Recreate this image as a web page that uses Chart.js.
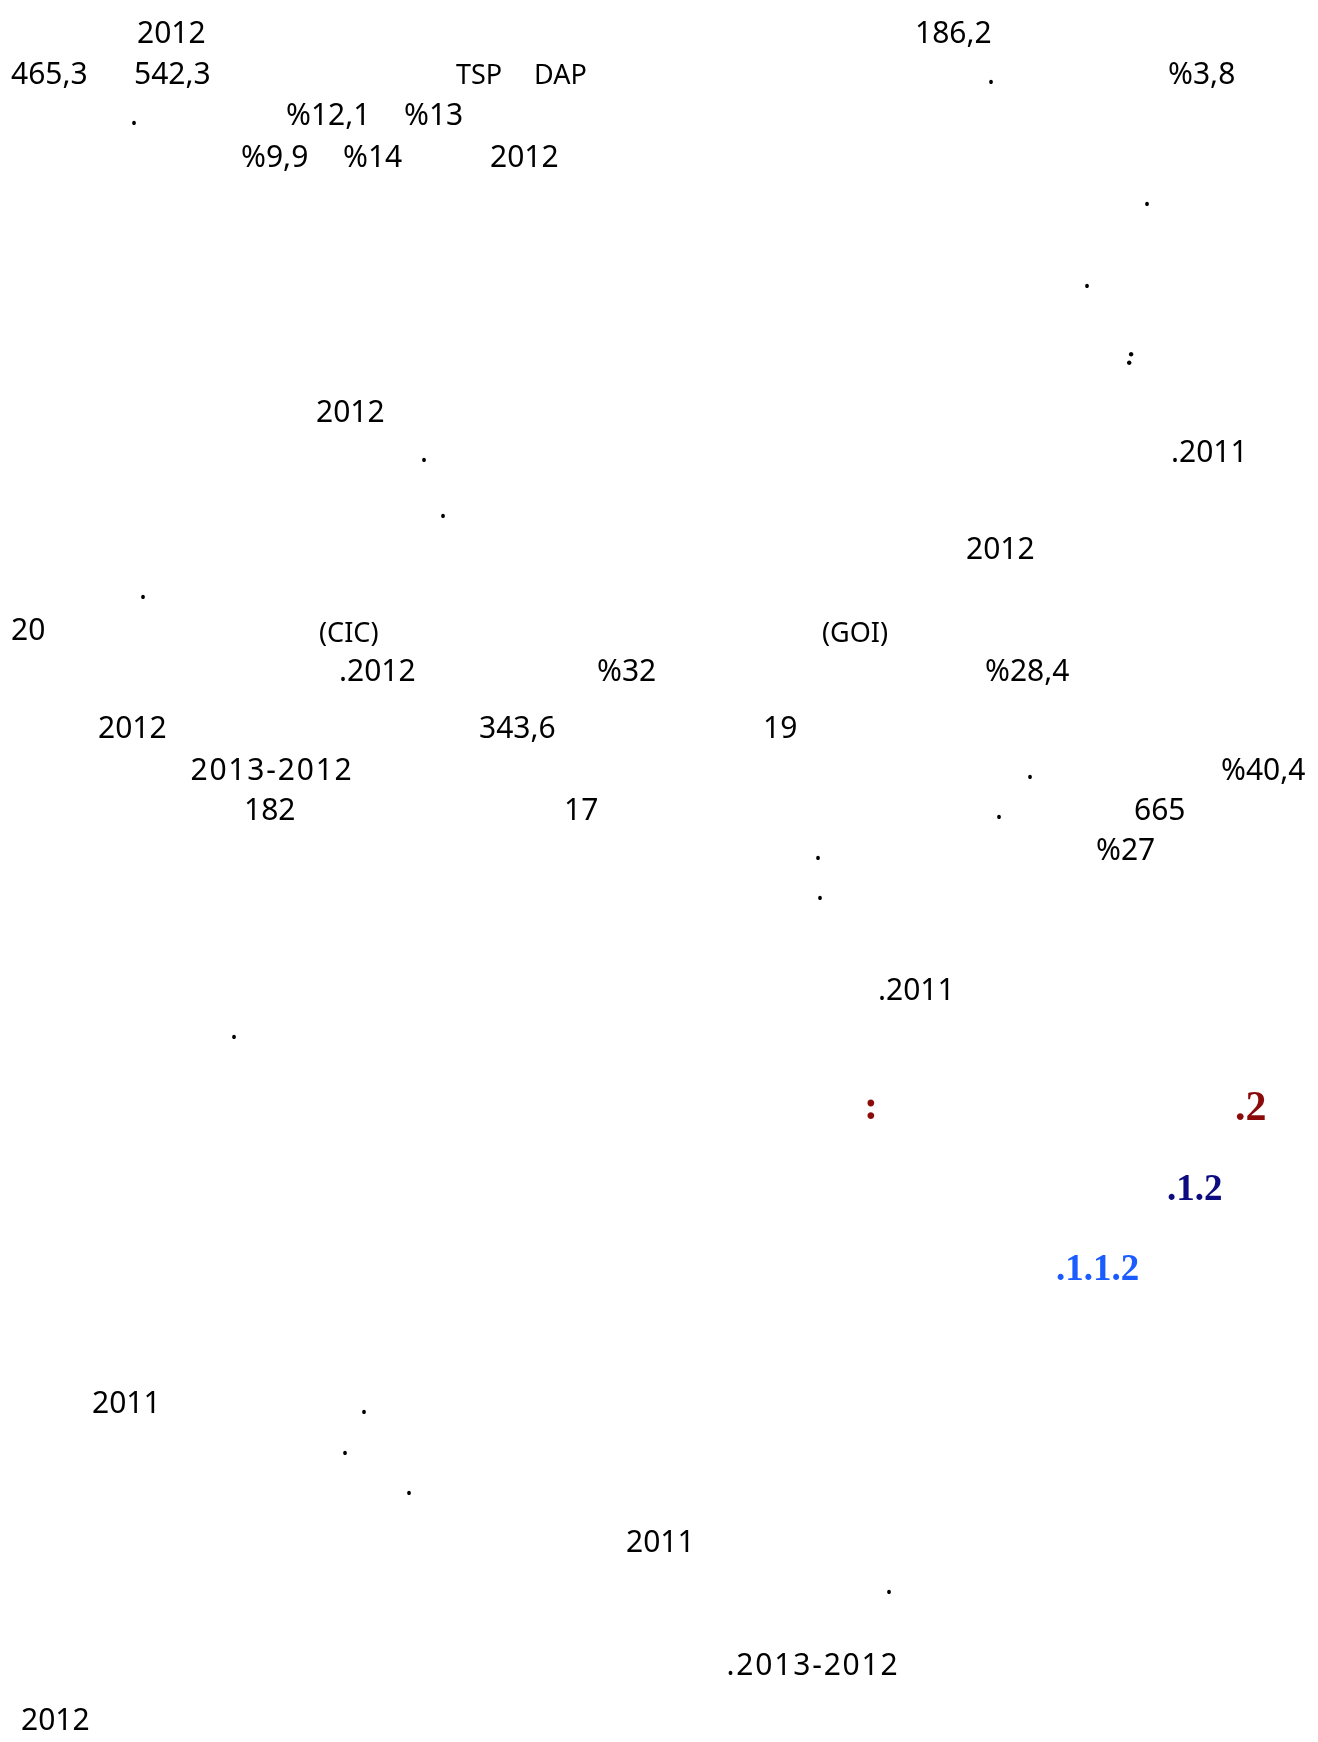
<!DOCTYPE html>
<html>
<head>
<meta charset="utf-8">
<script src="https://cdn.jsdelivr.net/npm/chart.js@4.4.1/dist/chart.umd.min.js"></script>
<style>
  html, body { margin: 0; padding: 0; background: #ffffff; overflow: hidden; }
  #wrap { position: absolute; left: 0; top: 0; width: 1318px; height: 1742px; }
</style>
</head>
<body>
<div id="wrap"><canvas id="page" width="1318" height="1742"></canvas></div>
<script>
// ---- text fragments visible on the page (values) ----
const bodyTexts = [
  "2012", "186,2",
  "465,3", "542,3", ".", "%3,8",
  ".", "%12,1", "%13",
  "%9,9", "%14", "2012",
  ".", ".",
  "2012",
  ".", ".2011",
  ".",
  "2012",
  ".",
  "20",
  ".2012", "%32", "%28,4",
  "2012", "343,6", "19",
  ".", "%40,4",
  "182", "17", ".", "665",
  ".", "%27",
  ".",
  ".2011",
  ".",
  "2011", ".", ".", ".",
  "2011", ".",
  "2012"
];
const dashTexts = ["2013-2012", ".2013-2012"];
const smallTexts = ["TSP", "DAP", "(CIC)", "(GOI)"];
const italicTexts = [":"];
const sectionTexts = [".2", ":"];
const subsectionTexts = [".1.2"];
const subsubsectionTexts = [".1.1.2"];

// ---- layout: left edge / baseline of each fragment on the page ----
const bodyLeft = [
  137, 915,
  11, 134, 987, 1168,
  130, 286, 404,
  241, 343, 490,
  1143, 1083,
  316,
  420, 1171,
  439,
  966,
  139,
  11,
  339, 597, 985,
  98, 479, 763,
  1026, 1221,
  244, 564, 995, 1134,
  814, 1096,
  816,
  878,
  230,
  92, 360, 341, 405,
  626, 885,
  21
];
const bodyBase = [
  43, 43,
  84, 84, 84, 84,
  125, 125, 125,
  167, 167, 167,
  206, 288,
  422,
  462, 462,
  518,
  559,
  599,
  640,
  681, 681, 681,
  738, 738, 738,
  779, 780,
  820, 820, 819, 820,
  860, 860,
  900,
  1000,
  1039,
  1413, 1414, 1455, 1495,
  1552, 1594,
  1730
];
const dashCenter = [272, 813];
const dashBase = [780, 1675];
const smallLeft = [456, 534, 319, 822];
const smallBase = [84, 84, 642, 642];
const italicLeft = [1126];
const italicBase = [365];
const sectionLeft = [1235, 864];
const sectionBase = [1120, 1119];
const subsectionLeft = [1167];
const subsectionBase = [1200];
const subsubsectionLeft = [1056];
const subsubsectionBase = [1280];

function pts(xs, ys) { return xs.map((x, i) => ({ x: x, y: ys[i] })); }

function textSet(labels, xs, ys, font, color, align, spacing) {
  return {
    data: pts(xs, ys),
    labels: labels,
    textFont: font,
    textColor: color,
    textAlign: align || 'left',
    textSpacing: spacing || '0px',
    pointRadius: 0,
    pointHitRadius: 0,
    showLine: false
  };
}

const BODY = '30px "Noto Sans"';
const textMarks = {
  id: 'textMarks',
  afterDatasetsDraw(chart) {
    const ctx = chart.ctx;
    ctx.save();
    ctx.textBaseline = 'alphabetic';
    chart.data.datasets.forEach((ds, i) => {
      const meta = chart.getDatasetMeta(i);
      ctx.font = ds.textFont;
      ctx.fillStyle = ds.textColor;
      ctx.textAlign = ds.textAlign;
      if ('letterSpacing' in ctx) ctx.letterSpacing = ds.textSpacing;
      meta.data.forEach((el, j) => {
        ctx.fillText(ds.labels[j], el.x, el.y);
      });
    });
    ctx.restore();
  }
};

new Chart(document.getElementById('page'), {
  type: 'scatter',
  data: {
    datasets: [
      textSet(bodyTexts, bodyLeft, bodyBase, BODY, '#000000'),
      textSet(dashTexts, dashCenter, dashBase, BODY, '#000000', 'center', '1.8px'),
      textSet(smallTexts, smallLeft, smallBase, '27px "Noto Sans"', '#000000'),
      textSet(italicTexts, italicLeft, italicBase, 'bold italic 28px "Liberation Serif"', '#000000'),
      textSet(sectionTexts, sectionLeft, sectionBase, 'bold 42px "Liberation Serif"', '#8b0a0a'),
      textSet(subsectionTexts, subsectionLeft, subsectionBase, 'bold 37px "Liberation Serif"', '#0c0c80'),
      textSet(subsubsectionTexts, subsubsectionLeft, subsubsectionBase, 'bold 37px "Liberation Serif"', '#1a5cff')
    ]
  },
  options: {
    responsive: false,
    animation: false,
    devicePixelRatio: 1,
    layout: { padding: 0 },
    events: [],
    plugins: { legend: { display: false }, tooltip: { enabled: false }, title: { display: false } },
    scales: {
      x: { type: 'linear', min: 0, max: 1318, display: false },
      y: { type: 'linear', min: 0, max: 1742, reverse: true, display: false }
    }
  },
  plugins: [textMarks]
});
</script>
</body>
</html>
